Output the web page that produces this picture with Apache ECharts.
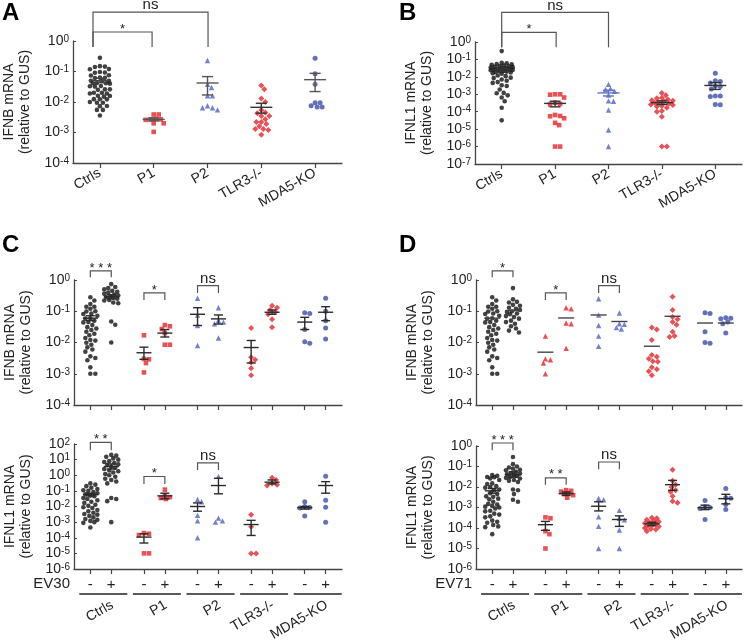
<!DOCTYPE html>
<html>
<head>
<meta charset="utf-8">
<script src="https://cdn.jsdelivr.net/npm/echarts@6/dist/echarts.min.js"></script>
<style>html,body{margin:0;padding:0;background:#fff}#c{width:744px;height:643px}</style>
</head>
<body>
<div id="c"></div>
<script>
// ---------- categories & tick labels ----------
const cats = ['Ctrls', 'P1', 'P2', 'TLR3-/-', 'MDA5-KO'];
const signs = ['-', '+'];
const virusC = 'EV30';
const virusD = 'EV71';
const yTitleB = 'IFNB mRNA\n(relative to GUS)';
const yTitleL = 'IFNL1 mRNA\n(relative to GUS)';

// ---------- Panel A (IFNB, baseline) ----------
const A_ctrls = [0.28,0.15,0.145,0.14,0.12,0.118,0.096,0.091,0.093,0.075,0.074,0.063,0.062,0.061,0.05,0.05,0.049,0.041,0.041,0.04,0.042,0.0335,0.032,0.033,0.026,0.026,0.025,0.02,0.019,0.019,0.02,0.0157,0.015,0.016,0.0123,0.0122,0.0124,0.0095,0.0095,0.010,0.0074,0.0073,0.0055,0.0055,0.0036];
const A_p1 = [0.0039,0.0039,0.0028,0.0027,0.0027,0.0026,0.002,0.002,0.00105];
const A_p2 = [0.23,0.038,0.03,0.016,0.016,0.0075,0.0065,0.0065,0.0055];
const A_tlr3 = [0.035,0.026,0.013,0.010,0.0055,0.0045,0.0043,0.0035,0.0035,0.0027,0.0022,0.0022,0.0019,0.0016,0.0013,0.0013,0.0012,0.00085];
const A_mda5 = [0.27,0.085,0.038,0.0095,0.0095,0.0075,0.0068,0.0068];
const A_mean = [0.05,0.0027,0.042,0.0067,0.054];
const A_lo = [0.043,0.0024,0.017,0.0043,0.022];
const A_hi = [0.06,0.003,0.068,0.0091,0.087];

// ---------- Panel B (IFNL1, baseline) ----------
const B_ctrls = [0.3,0.065,0.06,0.055,0.052,0.05,0.045,0.042,0.04,0.038,0.036,0.034,0.032,0.03,0.029,0.027,0.026,0.025,0.024,0.022,0.021,0.02,0.019,0.018,0.016,0.015,0.012,0.011,0.009,0.0085,0.007,0.006,0.005,0.0045,0.0033,0.003,0.0019,0.0012,0.00115,0.00087,0.00065,0.0004,0.00017,0.000032];
const B_p1 = [0.001,0.001,0.00095,0.00065,0.00033,0.00028,0.00026,6.5e-5,5.7e-5,5.5e-5,4.2e-5,2.3e-5,1.7e-5,1e-6,1e-6];
const B_p2 = [0.0037,0.0021,0.0019,0.0015,0.0009,0.00042,0.0004,0.000126,9e-6,1e-6];
const B_tlr3 = [0.0012,0.00087,0.00064,0.0006,0.0005,0.00045,0.00042,0.0004,0.00035,0.00033,0.0003,0.00026,0.00024,0.00021,0.0002,0.00017,0.00011,0.0001,5.2e-5,1e-6,1e-6];
const B_mda5 = [0.016,0.006,0.0055,0.0045,0.003,0.0028,0.002,0.0008,0.0008,0.00075,0.00026,0.00025];
const B_mean = [0.025,0.0003,0.0012,0.00033,0.0032];
const B_lo = [0.02,0.00019,0.0008,0.00026,0.0019];
const B_hi = [0.031,0.0004,0.0017,0.00042,0.0047];

// ---------- Panel C top (IFNB, EV30 -/+) ----------
const C1_ctrlsM = [0.28,0.22,0.17,0.14,0.14,0.12,0.1,0.098,0.085,0.082,0.072,0.06,0.058,0.05,0.045,0.044,0.036,0.031,0.028,0.025,0.022,0.019,0.017,0.014,0.012,0.0115,0.0098,0.0085,0.007,0.006,0.0051,0.0036,0.0032,0.0027,0.0016,0.001,0.001];
const C1_ctrlsV = [0.74,0.6,0.55,0.5,0.45,0.42,0.4,0.36,0.34,0.32,0.3,0.28,0.27,0.25,0.23,0.22,0.19,0.18,0.047,0.037,0.01];
const C1_p1M = [0.017,0.003,0.0029,0.0022,0.0011];
const C1_p1V = [0.036,0.033,0.027,0.02,0.0085,0.0085];
const C1_p2M = [0.26,0.075,0.035,0.008];
const C1_p2V = [0.13,0.05,0.045,0.04,0.014];
const C1_tlr3M = [0.029,0.0034,0.0028,0.0023,0.0015,0.0009];
const C1_tlr3V = [0.15,0.13,0.11,0.095,0.08,0.055,0.031];
const C1_mda5M = [0.09,0.085,0.026,0.0105,0.0095];
const C1_mda5V = [0.26,0.1,0.05,0.029,0.013];
const C1_mean = [0.06,0.29,0.0047,0.02,0.08,0.057,0.0069,0.093,0.045,0.093];
const C1_lo = [0.05,0.25,0.0029,0.015,0.035,0.039,0.0022,0.08,0.026,0.05];
const C1_hi = [0.072,0.34,0.0071,0.026,0.13,0.076,0.0116,0.11,0.064,0.14];

// ---------- Panel C bottom (IFNL1, EV30 -/+) ----------
const C2_ctrlsM = [0.3,0.25,0.2,0.16,0.13,0.11,0.1,0.085,0.07,0.06,0.05,0.045,0.035,0.03,0.025,0.02,0.017,0.013,0.011,0.009,0.008,0.006,0.005,0.004,0.0033,0.003,0.0025,0.002,0.0016,0.0014,0.0012,0.001,0.0009,0.00045];
const C2_ctrlsV = [20,18,15,12,10,8,7,6,5,4.5,3.5,3,2.5,2,1.8,1.5,1.2,1,0.8,0.6,0.5,0.4,0.3,0.035,0.03,0.022,0.001];
const C2_p1M = [0.0002,0.00018,0.00015,1e-5,1e-5];
const C2_p1V = [0.12,0.05,0.04,0.035,0.03];
const C2_p2M = [0.028,0.02,0.0027,0.0012,0.0001];
const C2_p2V = [0.85,0.0018,0.0012,0.001];
const C2_tlr3M = [0.003,0.0005,1e-5,1e-5];
const C2_tlr3V = [0.7,0.5,0.3,0.25,0.22];
const C2_mda5M = [0.02,0.01,0.0085,0.008,0.0025];
const C2_mda5V = [0.85,0.025,0.009,0.001];
const C2_mean = [0.058,3.6,1.1e-4,0.048,0.01,0.22,0.0007,0.36,0.0085,0.22];
const C2_lo = [0.048,2.5,4.6e-5,0.031,0.005,0.065,0.00014,0.28,0.0068,0.071];
const C2_hi = [0.07,5.3,1.8e-4,0.071,0.017,0.64,0.0013,0.5,0.01,0.39];

// ---------- Panel D top (IFNB, EV71 -/+) ----------
const D1_ctrlsM = [0.28,0.22,0.17,0.14,0.14,0.12,0.1,0.098,0.085,0.082,0.072,0.06,0.058,0.05,0.045,0.044,0.036,0.031,0.028,0.025,0.022,0.019,0.017,0.014,0.012,0.0115,0.0098,0.0085,0.007,0.006,0.0051,0.0036,0.0032,0.0027,0.0016,0.001,0.001];
const D1_ctrlsV = [0.55,0.24,0.2,0.19,0.16,0.15,0.13,0.12,0.11,0.1,0.095,0.085,0.08,0.07,0.065,0.058,0.05,0.045,0.04,0.033,0.028,0.024,0.021];
const D1_p1M = [0.016,0.003,0.0028,0.0022,0.001];
const D1_p1V = [0.13,0.12,0.042,0.04,0.0065];
const D1_p2M = [0.25,0.075,0.035,0.016,0.0075];
const D1_p2V = [0.088,0.04,0.038,0.03,0.027];
const D1_tlr3M = [0.03,0.026,0.012,0.004,0.0035,0.003,0.0025,0.0024,0.0016,0.0014,0.0012,0.0009];
const D1_tlr3V = [0.29,0.11,0.065,0.055,0.045,0.037,0.022,0.016,0.015];
const D1_mda5M = [0.09,0.085,0.022,0.01,0.0095];
const D1_mda5V = [0.062,0.06,0.058,0.045,0.04,0.02];
const D1_mean = [0.06,0.105,0.0049,0.061,0.076,0.047,0.0076,0.069,0.042,0.042];

// ---------- Panel D bottom (IFNL1, EV71 -/+) ----------
const D2_ctrlsM = [0.038,0.035,0.031,0.03,0.026,0.022,0.015,0.014,0.011,0.01,0.0093,0.0075,0.007,0.005,0.0045,0.0035,0.0033,0.0027,0.0025,0.0019,0.0015,0.0014,0.0012,0.0011,0.001,0.0009,0.0007,0.00065,0.0005,0.00045,0.00037,0.00033,0.00023,0.0002,0.00018,0.00014,0.00012,0.00011,0.00005];
const D2_ctrlsV = [0.29,0.13,0.1,0.09,0.078,0.07,0.065,0.055,0.048,0.045,0.042,0.038,0.035,0.031,0.028,0.026,0.022,0.02,0.0175,0.0075,0.007,0.0045,0.0024,0.0019];
const D2_p1M = [0.00033,0.0003,0.00007,0.00005,0.00001];
const D2_p1V = [0.007,0.0065,0.006,0.005,0.0045,0.004,0.003];
const D2_p2M = [0.0028,0.0024,0.00035,0.00012,0.00001];
const D2_p2V = [0.00072,0.0003,0.00025,0.00008,0.00001];
const D2_tlr3M = [0.00032,0.0003,0.00025,0.00022,0.0002,0.00018,0.00017,0.00016,0.00014,0.00013,0.00012,0.0001,0.00009,0.000085,0.00007];
const D2_tlr3V = [0.07,0.02,0.013,0.01,0.007,0.0058,0.0035,0.002,0.0017];
const D2_mda5M = [0.0022,0.0011,0.001,0.0009,0.00026];
const D2_mda5V = [0.0085,0.003,0.0028,0.0014,0.0008];
const D2_mean = [0.0065,0.04,1.45e-4,0.0047,0.00115,0.00026,1.6e-4,0.013,0.00098,0.0027];
const D2_lo = [0.005,0.03,7.7e-5,0.0039,0.00068,0.00012,0.00013,0.0069,0.00079,0.0015];
const D2_hi = [0.0085,0.055,0.00021,0.0057,0.0019,0.00039,0.00019,0.021,0.0013,0.0044];

// ---------- significance brackets: [x1, x2, top (log10), end (log10), label] ----------
const A_br = [[-0.128, 0.97, 0.295, -0.197, '*'], [-0.128, 2.01, 0.95, -0.197, 'ns']];
const B_br = [[0, 1.02, 0.556, -0.30, '*'], [0, 2.0, 1.70, -0.30, 'ns']];
const C1_br = [[-0.195, 0.195, 0.29, 0.085, '* * *'], [0.805, 1.195, -0.415, -0.64, '*'], [1.805, 2.195, -0.18, -0.415, 'ns']];
const C2_br = [[-0.195, 0.195, 2.11, 1.60, '* *'], [0.805, 1.195, -0.08, -0.56, '*'], [1.805, 2.195, 0.79, 0.34, 'ns']];
const D1_br = [[-0.195, 0.195, 0.29, 0.085, '*'], [0.805, 1.195, -0.415, -0.64, '*'], [1.805, 2.195, -0.18, -0.415, 'ns']];
const D2_br = [[-0.195, 0.195, 0.146, -0.21, '* * *'], [0.805, 1.195, -1.55, -1.89, '* *'], [1.805, 2.195, -0.78, -1.14, 'ns']];

// ---------- styling ----------
const FONT = '"Liberation Sans", Arial, Helvetica, sans-serif';
const RED = '#e3262b', BLUE = '#3b4ea8', BLUE2 = '#4d63c4', BLK = '#111';
const groupStyle = [
  {symbol: 'circle', size: 4.6, color: BLK},
  {symbol: 'rect', size: 4.6, color: RED},
  {symbol: 'triangle', size: 5.4, color: BLUE2},
  {symbol: 'diamond', size: 6, color: RED},
  {symbol: 'circle', size: 5, color: BLUE}
];
const AX = '#444';
const PAIR_OFF = 0.195;

const panels = [
  {grid: {left: 73, top: 41, width: 269, height: 122}, ymin: 1e-4, ymax: 1, yname: yTitleB, paired: false,
   groups: [A_ctrls, A_p1, A_p2, A_tlr3, A_mda5], mean: A_mean, lo: A_lo, hi: A_hi, br: A_br,
   eb: ['#444', '#555', '#555', '#333', '#555'], mw: 11, cw: 5.5, xl: 'cats', spread: 10},
  {grid: {left: 475, top: 42, width: 267, height: 122}, ymin: 1e-7, ymax: 1, yname: yTitleL, paired: false,
   groups: [B_ctrls, B_p1, B_p2, B_tlr3, B_mda5], mean: B_mean, lo: B_lo, hi: B_hi, br: B_br,
   eb: ['#333', '#333', '#6072c8', '#333', '#333'], mw: 11, cw: 5.5, xl: 'cats', spread: 11},
  {grid: {left: 74, top: 280, width: 268, height: 125}, ymin: 1e-4, ymax: 1, yname: yTitleB, paired: true,
   groups: [C1_ctrlsM, C1_ctrlsV, C1_p1M, C1_p1V, C1_p2M, C1_p2V, C1_tlr3M, C1_tlr3V, C1_mda5M, C1_mda5V],
   mean: C1_mean, lo: C1_lo, hi: C1_hi, br: C1_br, eb: null, mw: 7.5, cw: 4.5, xl: 'none', spread: 7},
  {grid: {left: 74, top: 444, width: 268, height: 125}, ymin: 1e-6, ymax: 100, yname: yTitleL, paired: true,
   groups: [C2_ctrlsM, C2_ctrlsV, C2_p1M, C2_p1V, C2_p2M, C2_p2V, C2_tlr3M, C2_tlr3V, C2_mda5M, C2_mda5V],
   mean: C2_mean, lo: C2_lo, hi: C2_hi, br: C2_br, eb: null, mw: 7.5, cw: 4.5, xl: 'sign', virus: virusC, spread: 7},
  {grid: {left: 476, top: 280, width: 266, height: 125}, ymin: 1e-4, ymax: 1, yname: yTitleB, paired: true,
   groups: [D1_ctrlsM, D1_ctrlsV, D1_p1M, D1_p1V, D1_p2M, D1_p2V, D1_tlr3M, D1_tlr3V, D1_mda5M, D1_mda5V],
   mean: D1_mean, lo: null, hi: null, br: D1_br, eb: null, mw: 8, cw: 4.5, xl: 'none', p1Tri: true, spread: 7},
  {grid: {left: 476, top: 446, width: 266, height: 123}, ymin: 1e-6, ymax: 1, yname: yTitleL, paired: true,
   groups: [D2_ctrlsM, D2_ctrlsV, D2_p1M, D2_p1V, D2_p2M, D2_p2V, D2_tlr3M, D2_tlr3V, D2_mda5M, D2_mda5V],
   mean: D2_mean, lo: D2_lo, hi: D2_hi, br: D2_br, eb: null, mw: 7.5, cw: 4.5, xl: 'sign', virus: virusD, spread: 7}
];

function xPos(i, paired) {
  return paired ? Math.floor(i / 2) + (i % 2 ? PAIR_OFF : -PAIR_OFF) : i;
}

// bounded beeswarm: spreads overlapping points sideways, within +/- maxHalf px
function swarm(vals, cx, unitPx, decPx, d, maxHalf) {
  const order = vals.map(v => ({v: v, y: Math.log10(v) * decPx})).sort((a, b) => b.y - a.y);
  const cands = [];
  for (let o = 0; o <= maxHalf; o += 1) { cands.push(o); if (o) cands.push(-o); }
  const placed = [], out = [];
  for (const p of order) {
    let best = 0, bestD = -1;
    for (const o of cands) {
      let md = Infinity;
      for (const q of placed) {
        const dd = Math.hypot(q.x - o, q.y - p.y);
        if (dd < md) md = dd;
      }
      if (md >= d) { best = o; bestD = md; break; }
      if (md > bestD + 0.01) { bestD = md; best = o; }
    }
    placed.push({x: best, y: p.y});
    out.push([cx + best / unitPx, p.v]);
  }
  return out;
}

const grids = [], xAxes = [], yAxes = [], series = [];

panels.forEach((P, k) => {
  grids.push(P.grid);
  const tickVals = P.groups.map((g, i) => xPos(i, P.paired));
  const axisLabel = {show: false};
  if (P.xl === 'cats') {
    Object.assign(axisLabel, {show: true, customValues: [0, 1, 2, 3, 4], rotate: 30, margin: 9,
      formatter: v => cats[Math.round(v)], fontSize: 14, fontFamily: FONT, color: '#222'});
  } else if (P.xl === 'sign') {
    Object.assign(axisLabel, {show: true, customValues: tickVals, margin: 8,
      formatter: v => (v > Math.round(v) ? signs[1] : signs[0]), fontSize: 15, fontFamily: FONT, color: '#222'});
  }
  xAxes.push({
    gridIndex: k, type: 'value', min: -0.5, max: 4.5,
    axisLine: {show: true, onZero: false, lineStyle: {color: AX, width: 1.3}},
    axisTick: {show: true, customValues: tickVals, length: 5, lineStyle: {color: AX, width: 1.2}},
    splitLine: {show: false},
    axisLabel: axisLabel
  });
  yAxes.push({
    gridIndex: k, type: 'log', logBase: 10, min: P.ymin, max: P.ymax,
    name: P.yname, nameLocation: 'middle', nameGap: 40, nameRotate: 90,
    nameTextStyle: {fontSize: 14, lineHeight: 16, fontFamily: FONT, color: '#222'},
    axisLine: {show: true, onZero: false, lineStyle: {color: AX, width: 1.3}},
    axisTick: {show: true, inside: true, length: 3, lineStyle: {color: AX}},
    minorTick: {show: false},
    splitLine: {show: false},
    axisLabel: {
      margin: 4,
      formatter: v => '{b|10}{s|' + Math.round(Math.log10(v)) + '}',
      rich: {
        b: {fontSize: 14, fontFamily: FONT, color: '#222'},
        s: {fontSize: 10, fontFamily: FONT, color: '#222', verticalAlign: 'top'}
      }
    }
  });

  const unitPx = P.grid.width / 5;
  const decPx = P.grid.height / (Math.log10(P.ymax) - Math.log10(P.ymin));

  // scatter points
  P.groups.forEach((vals, i) => {
    const gi = P.paired ? Math.floor(i / 2) : i;
    let st = groupStyle[gi];
    if (P.p1Tri && gi === 1) st = {symbol: 'triangle', size: 5.4, color: RED};
    series.push({
      type: 'scatter', xAxisIndex: k, yAxisIndex: k, silent: true, z: 3,
      symbol: st.symbol, symbolSize: st.size,
      itemStyle: {color: st.color},
      data: swarm(vals, xPos(i, P.paired), unitPx, decPx, 4.6, P.spread)
    });
  });

  // mean +/- SEM
  const ebData = P.mean.map((m, i) => P.hi ? [xPos(i, P.paired), m, P.lo[i], P.hi[i]] : [xPos(i, P.paired), m]);
  series.push({
    type: 'custom', xAxisIndex: k, yAxisIndex: k, silent: true, clip: false, z: 5,
    encode: {x: 0, y: 1},
    data: ebData,
    renderItem: (params, api) => {
      const x = api.value(0), m = api.value(1), lo = api.value(2), hi = api.value(3);
      const col = P.eb ? P.eb[params.dataIndex] : (P.hi ? '#2a2a2a' : '#444');
      const pm = api.coord([x, m]);
      const st = {stroke: col, lineWidth: 1.4};
      const ch = [{type: 'line', shape: {x1: pm[0] - P.mw, y1: pm[1], x2: pm[0] + P.mw, y2: pm[1]}, style: st}];
      if (isFinite(hi) && hi > 0) {
        const ph = api.coord([x, hi]), pl = api.coord([x, lo]);
        ch.push({type: 'line', shape: {x1: pm[0], y1: ph[1], x2: pm[0], y2: pl[1]}, style: st});
        ch.push({type: 'line', shape: {x1: pm[0] - P.cw, y1: ph[1], x2: pm[0] + P.cw, y2: ph[1]}, style: st});
        ch.push({type: 'line', shape: {x1: pm[0] - P.cw, y1: pl[1], x2: pm[0] + P.cw, y2: pl[1]}, style: st});
      }
      return {type: 'group', children: ch};
    }
  });

  // significance brackets
  series.push({
    type: 'custom', xAxisIndex: k, yAxisIndex: k, silent: true, clip: false, z: 6,
    encode: {x: [0, 1], y: [2, 3]},
    data: P.br.map(b => [b[0], b[1], Math.pow(10, b[2]), Math.pow(10, b[3])]),
    renderItem: (params, api) => {
      const b = P.br[params.dataIndex];
      const p1 = api.coord([api.value(0), api.value(2)]);
      const p2 = api.coord([api.value(1), api.value(3)]);
      const isStar = b[4].indexOf('*') >= 0;
      return {type: 'group', children: [
        {type: 'polyline', shape: {points: [[p1[0], p2[1]], [p1[0], p1[1]], [p2[0], p1[1]], [p2[0], p2[1]]]},
         style: {stroke: '#555', lineWidth: 1.2, fill: null}},
        {type: 'text', x: (p1[0] + p2[0]) / 2, y: p1[1] - (isStar ? 3 : 7),
         style: {text: b[4], font: (isStar ? '13px ' : '15px ') + FONT, fill: '#222', align: 'center', verticalAlign: 'middle'}}
      ]};
    }
  });

  // group underlines + rotated group names + virus label (bottom panels)
  if (P.xl === 'sign') {
    series.push({
      type: 'custom', xAxisIndex: k, yAxisIndex: k, silent: true, clip: false, z: 6,
      encode: {x: 0, y: 1},
      data: cats.map((c, i) => [i, P.ymin]),
      renderItem: (params, api) => {
        const i = params.dataIndex;
        const p = api.coord([api.value(0), api.value(1)]);
        const ch = [
          {type: 'line', shape: {x1: p[0] + 2.5 - 24, y1: p[1] + 25, x2: p[0] + 2.5 + 24, y2: p[1] + 25},
           style: {stroke: '#222', lineWidth: 1.5}},
          {type: 'text', x: p[0] + 8, y: p[1] + 29, rotation: Math.PI / 6,
           style: {text: cats[i], font: '14px ' + FONT, fill: '#222', align: 'right', verticalAlign: 'top'}}
        ];
        if (i === 0) {
          const p0 = api.coord([-0.5, api.value(1)]);
          ch.push({type: 'text', x: p0[0] - 4, y: p0[1] + 15,
            style: {text: P.virus, font: '15px ' + FONT, fill: '#222', align: 'right', verticalAlign: 'middle'}});
        }
        return {type: 'group', children: ch};
      }
    });
  }
});

const letterStyle = t => ({text: t, font: 'bold 24px ' + FONT, fill: '#000'});
const chart = echarts.init(document.getElementById('c'), null, {renderer: 'canvas'});
chart.setOption({
  animation: false,
  backgroundColor: '#fff',
  grid: grids,
  xAxis: xAxes,
  yAxis: yAxes,
  series: series,
  graphic: [
    {type: 'text', left: 2, top: 1, style: letterStyle('A')},
    {type: 'text', left: 399, top: 1, style: letterStyle('B')},
    {type: 'text', left: 2, top: 233, style: letterStyle('C')},
    {type: 'text', left: 399, top: 233, style: letterStyle('D')}
  ]
});
</script>
</body>
</html>
